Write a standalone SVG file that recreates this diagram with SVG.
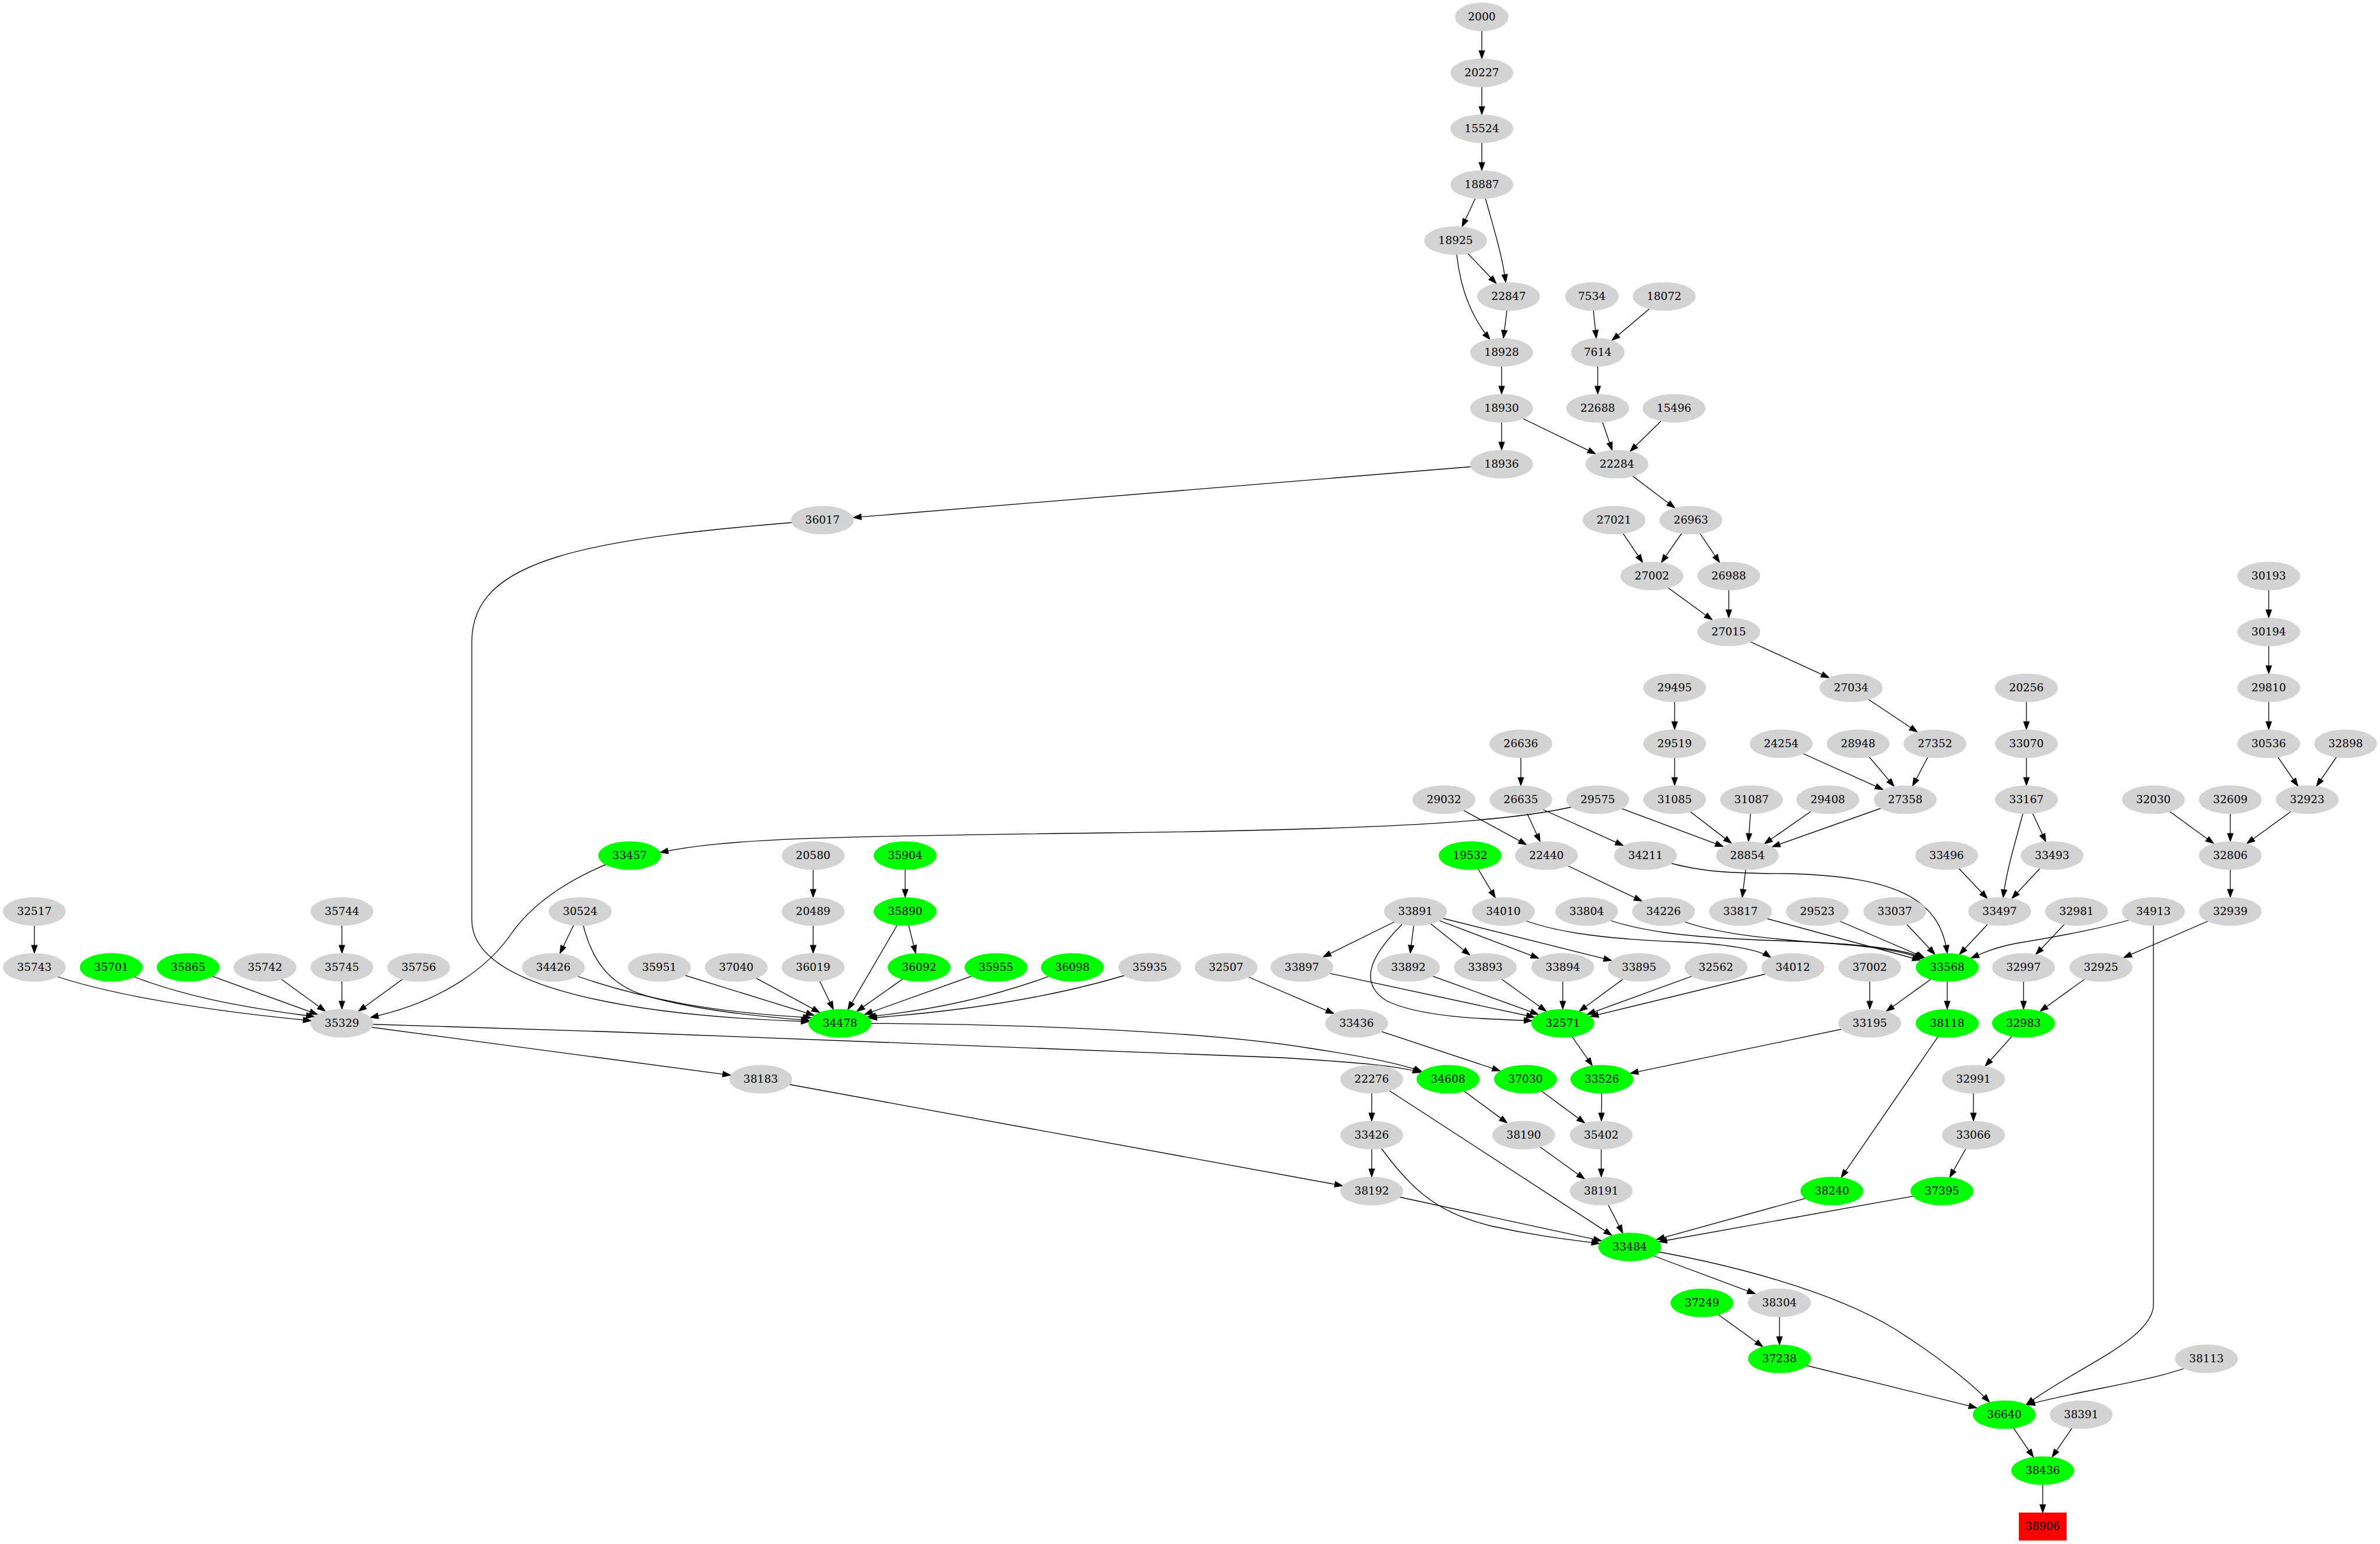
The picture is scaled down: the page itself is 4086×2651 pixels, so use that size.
<svg xmlns="http://www.w3.org/2000/svg" width="4086" height="2651" viewBox="0 0 4086 2651">
<style>
.g{fill:#d3d3d3}
.v{fill:#00ff00}
.r{fill:#ff0000}
text{font-family:"DejaVu Serif","Liberation Serif",serif;font-size:18.67px;text-anchor:middle;fill:#000}
#edges path{fill:none;stroke:#000;stroke-width:1.33;marker-end:url(#a)}
</style>
<defs>
<marker id="a" markerUnits="userSpaceOnUse" viewBox="0 -6 16 12" markerWidth="16" markerHeight="12" refX="13.3" refY="0" orient="auto" style="overflow:visible">
<path d="M0,-4.7 L13.3,0 L0,4.7 z" fill="#000" stroke="#000" stroke-width="1.33"/>
</marker>
</defs>
<rect width="4086" height="2651" fill="#fff"/>
<g id="edges">
<path d="M2544,29 L2544,100.5"/>
<path d="M2544,125 L2544,196.5"/>
<path d="M2544,221 L2544,292.5"/>
<path d="M2544,317 L2510.2,389"/>
<path d="M2544,317 C2560,380 2578,430 2585,484.8"/>
<path d="M2499,413 L2568.7,486.5"/>
<path d="M2499,413 C2502,470 2515,530 2558,583"/>
<path d="M2590,509 L2581.1,580.5"/>
<path d="M2733,509 L2740.5,580.5"/>
<path d="M2857,509 L2767.6,584.3"/>
<path d="M2578,605 L2578,676.5"/>
<path d="M2743,605 L2743,676.5"/>
<path d="M2578,701 L2578,772.5"/>
<path d="M2578,701 L2739.1,779.1"/>
<path d="M2743,701 L2767.7,772.8"/>
<path d="M2874,701 L2798.7,774.8"/>
<path d="M2578,797 L1465.1,888.6"/>
<path d="M2776,797 L2875.2,872"/>
<path d="M2771,893 L2820.1,965.6"/>
<path d="M2903,893 L2852.3,965.6"/>
<path d="M2903,893 L2952.1,965.6"/>
<path d="M2836,989 L2939.4,1064.2"/>
<path d="M2968,989 L2968,1060.5"/>
<path d="M2968,1085 L3140,1163.6"/>
<path d="M3178,1181 L3291.6,1256.7"/>
<path d="M2875,1181 L2875,1252.5"/>
<path d="M3479,1181 L3479,1252.5"/>
<path d="M3895,989 L3895,1060.5"/>
<path d="M3895,1085 L3895,1156.5"/>
<path d="M3895,1181 L3895,1252.5"/>
<path d="M2611,1277 L2611,1348.5"/>
<path d="M2875,1277 L2875,1348.5"/>
<path d="M3058,1277 L3232.7,1355.7"/>
<path d="M3190,1277 L3251.7,1350.1"/>
<path d="M3322,1277 L3283.6,1349.2"/>
<path d="M3479,1277 L3479,1348.5"/>
<path d="M3895,1277 L3944.9,1349.6"/>
<path d="M4027,1277 L3977.1,1349.6"/>
<path d="M2611,1373 L2644,1445"/>
<path d="M2611,1373 L2786.7,1451.7"/>
<path d="M2479,1373 L2620.5,1450.2"/>
<path d="M2743,1373 C2640,1410 2400,1424 1900,1430 S1250,1440 1133.5,1463.5"/>
<path d="M2743,1373 L2958.3,1453.4"/>
<path d="M2875,1373 L2972.5,1447.9"/>
<path d="M3007,1373 L3001.8,1444.5"/>
<path d="M3138,1373 L3029.5,1448.5"/>
<path d="M3271,1373 L3042.6,1453.9"/>
<path d="M3479,1373 C3465,1430 3445,1490 3439,1541"/>
<path d="M3479,1373 L3512,1445"/>
<path d="M3697,1373 L3800.4,1448.2"/>
<path d="M3829,1373 L3829,1444.5"/>
<path d="M3961,1373 L3857.6,1448.2"/>
<path d="M1081,1469 C990,1500 920,1545 880,1600 C840,1660 760,1720 636,1747"/>
<path d="M1396,1469 L1396,1540.5"/>
<path d="M1554,1469 L1554,1540.5"/>
<path d="M2524,1469 L2567,1541.3"/>
<path d="M2655,1469 L2818.8,1547.2"/>
<path d="M2825,1469 C2900,1495 2950,1500 3070,1500 C3250,1505 3330,1540 3343,1636.5"/>
<path d="M3000,1469 L2991.1,1540.5"/>
<path d="M3342,1469 L3411.7,1542.5"/>
<path d="M3523,1469 L3454.1,1542.5"/>
<path d="M3829,1469 L3829,1540.5"/>
<path d="M59,1565 L59,1636.5"/>
<path d="M587,1565 L587,1636.5"/>
<path d="M996,1565 L961.3,1637"/>
<path d="M996,1565 C1010,1640 1040,1690 1110,1710 C1200,1735 1300,1745 1389,1752"/>
<path d="M1396,1565 L1396,1636.5"/>
<path d="M1554,1565 L1455.8,1733.3"/>
<path d="M1554,1565 L1572,1636.6"/>
<path d="M2430,1565 L2271.6,1643"/>
<path d="M2430,1565 L2421.1,1636.5"/>
<path d="M2430,1565 L2523.4,1639.7"/>
<path d="M2430,1565 L2641.6,1645.3"/>
<path d="M2430,1565 L2766.7,1649.2"/>
<path d="M2430,1565 C2370,1620 2320,1680 2380,1718 C2440,1748 2560,1750 2630,1752.5"/>
<path d="M2581,1565 C2650,1600 2750,1612 2880,1617 C2960,1620 3020,1630 3040,1644"/>
<path d="M2724,1565 C2800,1600 2900,1610 3050,1615 C3200,1620 3270,1630 3302,1645"/>
<path d="M2856,1565 C2920,1610 3100,1615 3200,1625 C3260,1632 3285,1640 3300,1646"/>
<path d="M2988,1565 L3296.6,1648.5"/>
<path d="M3120,1565 L3303.8,1644.1"/>
<path d="M3253,1565 L3321.8,1638.5"/>
<path d="M3433,1565 L3364.2,1638.5"/>
<path d="M3697,1565 C3640,1590 3520,1610 3460,1620 C3420,1628 3400,1638 3384,1645"/>
<path d="M3565,1565 L3495.3,1638.5"/>
<path d="M3829,1565 L3646.1,1644.1"/>
<path d="M3697,1565 L3697,2240 C3697,2300 3560,2350 3479,2411.5"/>
<path d="M59,1661 C130,1695 300,1730 534,1752.5"/>
<path d="M191,1661 C300,1710 420,1730 539.4,1745.5"/>
<path d="M323,1661 L544.9,1741.7"/>
<path d="M455,1661 L558.4,1736.2"/>
<path d="M587,1661 L587,1732.5"/>
<path d="M719,1661 L615.6,1736.2"/>
<path d="M950,1661 C1100,1720 1250,1740 1392.4,1747.3"/>
<path d="M1132,1661 L1397.4,1743.2"/>
<path d="M1264,1661 L1407.2,1738.3"/>
<path d="M1396,1661 L1430.7,1733"/>
<path d="M1578,1661 L1471.2,1736.4"/>
<path d="M1710,1661 L1484.4,1741.8"/>
<path d="M1841,1661 C1720,1710 1600,1735 1489.7,1745.5"/>
<path d="M1974,1661 C1800,1720 1600,1740 1491.8,1747.9"/>
<path d="M1412,893 C1000,925 812,960 810,1100 L810,1580 C810,1700 1100,1745 1389,1754"/>
<path d="M2105,1661 L2289.8,1740.2"/>
<path d="M2235,1661 L2634.2,1746.5"/>
<path d="M2418,1661 L2640.9,1741.7"/>
<path d="M2550,1661 L2654.3,1736.2"/>
<path d="M2683,1661 L2683,1732.5"/>
<path d="M2814,1661 L2711.4,1736.2"/>
<path d="M2946,1661 L2725.1,1741.7"/>
<path d="M3078,1661 L2730.6,1745.4"/>
<path d="M3210,1661 L3210,1732.5"/>
<path d="M3343,1661 L3238.7,1736.2"/>
<path d="M3343,1661 L3343,1732.5"/>
<path d="M3474,1661 L3474,1732.5"/>
<path d="M3607,1661 L3502.7,1736.2"/>
<path d="M587,1757 C1200,1775 2000,1805 2200,1816 C2330,1824 2400,1830 2439,1841.5"/>
<path d="M587,1757 L1254.2,1846.1"/>
<path d="M1442,1757 C1800,1757 2100,1775 2250,1800 C2350,1815 2410,1828 2441,1840"/>
<path d="M2329,1757 L2575.4,1838.6"/>
<path d="M2683,1757 L2733.7,1829.6"/>
<path d="M3210,1757 L2799.1,1842.8"/>
<path d="M3474,1757 L3408.4,1830.3"/>
<path d="M2355,1853 L2355,1924.5"/>
<path d="M2355,1853 L2767.1,2120.9"/>
<path d="M2486,1853 L2587.6,1928.1"/>
<path d="M2619,1853 L2720.6,1928.1"/>
<path d="M2750,1853 L2749.3,1924.5"/>
<path d="M3388,1853 L3388,1924.5"/>
<path d="M2355,1949 L2355,2020.5"/>
<path d="M2355,1949 C2420,2040 2460,2080 2560,2105 C2650,2125 2710,2130 2746,2135"/>
<path d="M1306,1853 L2304.9,2035.8"/>
<path d="M2616,1949 L2720.3,2024.2"/>
<path d="M2749,1949 L2749,2020.5"/>
<path d="M3343,1757 L3161.1,2021.6"/>
<path d="M3388,1949 L3347.4,2021.3"/>
<path d="M2355,2045 L2749.3,2130.4"/>
<path d="M2749,2045 L2785.9,2117.1"/>
<path d="M3145,2045 L2844.1,2128.2"/>
<path d="M3334,2045 L2848.2,2132"/>
<path d="M2798,2141 L3013.3,2221.4"/>
<path d="M2798,2141 C2980,2170 3150,2220 3250,2280 C3330,2330 3390,2380 3415.5,2407.5"/>
<path d="M2922,2237 L3026.3,2312.2"/>
<path d="M3055,2237 L3055,2308.5"/>
<path d="M3055,2333 L3393.7,2417.2"/>
<path d="M3788,2333 C3720,2370 3600,2380 3480,2412"/>
<path d="M3441,2429 L3490.9,2501.6"/>
<path d="M3573,2429 L3523.1,2501.6"/>
<path d="M3507,2525 L3507,2597"/>
</g>
<g id="nodes">
<g id="n2000"><ellipse class="g" cx="2544" cy="29" rx="46" ry="24.5"/><text x="2544" y="35">2000</text></g>
<g id="n20227"><ellipse class="g" cx="2544" cy="125" rx="54" ry="24.5"/><text x="2544" y="131">20227</text></g>
<g id="n15524"><ellipse class="g" cx="2544" cy="221" rx="54" ry="24.5"/><text x="2544" y="227">15524</text></g>
<g id="n18887"><ellipse class="g" cx="2544" cy="317" rx="54" ry="24.5"/><text x="2544" y="323">18887</text></g>
<g id="n18925"><ellipse class="g" cx="2499" cy="413" rx="54" ry="24.5"/><text x="2499" y="419">18925</text></g>
<g id="n22847"><ellipse class="g" cx="2590" cy="509" rx="54" ry="24.5"/><text x="2590" y="515">22847</text></g>
<g id="n7534"><ellipse class="g" cx="2733" cy="509" rx="46" ry="24.5"/><text x="2733" y="515">7534</text></g>
<g id="n18072"><ellipse class="g" cx="2857" cy="509" rx="54" ry="24.5"/><text x="2857" y="515">18072</text></g>
<g id="n18928"><ellipse class="g" cx="2578" cy="605" rx="54" ry="24.5"/><text x="2578" y="611">18928</text></g>
<g id="n7614"><ellipse class="g" cx="2743" cy="605" rx="46" ry="24.5"/><text x="2743" y="611">7614</text></g>
<g id="n18930"><ellipse class="g" cx="2578" cy="701" rx="54" ry="24.5"/><text x="2578" y="707">18930</text></g>
<g id="n22688"><ellipse class="g" cx="2743" cy="701" rx="54" ry="24.5"/><text x="2743" y="707">22688</text></g>
<g id="n15496"><ellipse class="g" cx="2874" cy="701" rx="54" ry="24.5"/><text x="2874" y="707">15496</text></g>
<g id="n18936"><ellipse class="g" cx="2578" cy="797" rx="54" ry="24.5"/><text x="2578" y="803">18936</text></g>
<g id="n22284"><ellipse class="g" cx="2776" cy="797" rx="54" ry="24.5"/><text x="2776" y="803">22284</text></g>
<g id="n36017"><ellipse class="g" cx="1412" cy="893" rx="54" ry="24.5"/><text x="1412" y="899">36017</text></g>
<g id="n27021"><ellipse class="g" cx="2771" cy="893" rx="54" ry="24.5"/><text x="2771" y="899">27021</text></g>
<g id="n26963"><ellipse class="g" cx="2903" cy="893" rx="54" ry="24.5"/><text x="2903" y="899">26963</text></g>
<g id="n27002"><ellipse class="g" cx="2836" cy="989" rx="54" ry="24.5"/><text x="2836" y="995">27002</text></g>
<g id="n26988"><ellipse class="g" cx="2968" cy="989" rx="54" ry="24.5"/><text x="2968" y="995">26988</text></g>
<g id="n30193"><ellipse class="g" cx="3895" cy="989" rx="54" ry="24.5"/><text x="3895" y="995">30193</text></g>
<g id="n27015"><ellipse class="g" cx="2968" cy="1085" rx="54" ry="24.5"/><text x="2968" y="1091">27015</text></g>
<g id="n30194"><ellipse class="g" cx="3895" cy="1085" rx="54" ry="24.5"/><text x="3895" y="1091">30194</text></g>
<g id="n29495"><ellipse class="g" cx="2875" cy="1181" rx="54" ry="24.5"/><text x="2875" y="1187">29495</text></g>
<g id="n27034"><ellipse class="g" cx="3178" cy="1181" rx="54" ry="24.5"/><text x="3178" y="1187">27034</text></g>
<g id="n20256"><ellipse class="g" cx="3479" cy="1181" rx="54" ry="24.5"/><text x="3479" y="1187">20256</text></g>
<g id="n29810"><ellipse class="g" cx="3895" cy="1181" rx="54" ry="24.5"/><text x="3895" y="1187">29810</text></g>
<g id="n26636"><ellipse class="g" cx="2611" cy="1277" rx="54" ry="24.5"/><text x="2611" y="1283">26636</text></g>
<g id="n29519"><ellipse class="g" cx="2875" cy="1277" rx="54" ry="24.5"/><text x="2875" y="1283">29519</text></g>
<g id="n24254"><ellipse class="g" cx="3058" cy="1277" rx="54" ry="24.5"/><text x="3058" y="1283">24254</text></g>
<g id="n28948"><ellipse class="g" cx="3190" cy="1277" rx="54" ry="24.5"/><text x="3190" y="1283">28948</text></g>
<g id="n27352"><ellipse class="g" cx="3322" cy="1277" rx="54" ry="24.5"/><text x="3322" y="1283">27352</text></g>
<g id="n33070"><ellipse class="g" cx="3479" cy="1277" rx="54" ry="24.5"/><text x="3479" y="1283">33070</text></g>
<g id="n30536"><ellipse class="g" cx="3895" cy="1277" rx="54" ry="24.5"/><text x="3895" y="1283">30536</text></g>
<g id="n32898"><ellipse class="g" cx="4027" cy="1277" rx="54" ry="24.5"/><text x="4027" y="1283">32898</text></g>
<g id="n29032"><ellipse class="g" cx="2479" cy="1373" rx="54" ry="24.5"/><text x="2479" y="1379">29032</text></g>
<g id="n26635"><ellipse class="g" cx="2611" cy="1373" rx="54" ry="24.5"/><text x="2611" y="1379">26635</text></g>
<g id="n29575"><ellipse class="g" cx="2743" cy="1373" rx="54" ry="24.5"/><text x="2743" y="1379">29575</text></g>
<g id="n31085"><ellipse class="g" cx="2875" cy="1373" rx="54" ry="24.5"/><text x="2875" y="1379">31085</text></g>
<g id="n31087"><ellipse class="g" cx="3007" cy="1373" rx="54" ry="24.5"/><text x="3007" y="1379">31087</text></g>
<g id="n29408"><ellipse class="g" cx="3138" cy="1373" rx="54" ry="24.5"/><text x="3138" y="1379">29408</text></g>
<g id="n27358"><ellipse class="g" cx="3271" cy="1373" rx="54" ry="24.5"/><text x="3271" y="1379">27358</text></g>
<g id="n33167"><ellipse class="g" cx="3479" cy="1373" rx="54" ry="24.5"/><text x="3479" y="1379">33167</text></g>
<g id="n32030"><ellipse class="g" cx="3697" cy="1373" rx="54" ry="24.5"/><text x="3697" y="1379">32030</text></g>
<g id="n32609"><ellipse class="g" cx="3829" cy="1373" rx="54" ry="24.5"/><text x="3829" y="1379">32609</text></g>
<g id="n32923"><ellipse class="g" cx="3961" cy="1373" rx="54" ry="24.5"/><text x="3961" y="1379">32923</text></g>
<g id="n33457"><ellipse class="v" cx="1081" cy="1469" rx="54" ry="24.5"/><text x="1081" y="1475">33457</text></g>
<g id="n20580"><ellipse class="g" cx="1396" cy="1469" rx="54" ry="24.5"/><text x="1396" y="1475">20580</text></g>
<g id="n35904"><ellipse class="v" cx="1554" cy="1469" rx="54" ry="24.5"/><text x="1554" y="1475">35904</text></g>
<g id="n19532"><ellipse class="v" cx="2524" cy="1469" rx="54" ry="24.5"/><text x="2524" y="1475">19532</text></g>
<g id="n22440"><ellipse class="g" cx="2655" cy="1469" rx="54" ry="24.5"/><text x="2655" y="1475">22440</text></g>
<g id="n34211"><ellipse class="g" cx="2825" cy="1469" rx="54" ry="24.5"/><text x="2825" y="1475">34211</text></g>
<g id="n28854"><ellipse class="g" cx="3000" cy="1469" rx="54" ry="24.5"/><text x="3000" y="1475">28854</text></g>
<g id="n33496"><ellipse class="g" cx="3342" cy="1469" rx="54" ry="24.5"/><text x="3342" y="1475">33496</text></g>
<g id="n33493"><ellipse class="g" cx="3523" cy="1469" rx="54" ry="24.5"/><text x="3523" y="1475">33493</text></g>
<g id="n32806"><ellipse class="g" cx="3829" cy="1469" rx="54" ry="24.5"/><text x="3829" y="1475">32806</text></g>
<g id="n32517"><ellipse class="g" cx="59" cy="1565" rx="54" ry="24.5"/><text x="59" y="1571">32517</text></g>
<g id="n35744"><ellipse class="g" cx="587" cy="1565" rx="54" ry="24.5"/><text x="587" y="1571">35744</text></g>
<g id="n30524"><ellipse class="g" cx="996" cy="1565" rx="54" ry="24.5"/><text x="996" y="1571">30524</text></g>
<g id="n20489"><ellipse class="g" cx="1396" cy="1565" rx="54" ry="24.5"/><text x="1396" y="1571">20489</text></g>
<g id="n35890"><ellipse class="v" cx="1554" cy="1565" rx="54" ry="24.5"/><text x="1554" y="1571">35890</text></g>
<g id="n33891"><ellipse class="g" cx="2430" cy="1565" rx="54" ry="24.5"/><text x="2430" y="1571">33891</text></g>
<g id="n34010"><ellipse class="g" cx="2581" cy="1565" rx="54" ry="24.5"/><text x="2581" y="1571">34010</text></g>
<g id="n33804"><ellipse class="g" cx="2724" cy="1565" rx="54" ry="24.5"/><text x="2724" y="1571">33804</text></g>
<g id="n34226"><ellipse class="g" cx="2856" cy="1565" rx="54" ry="24.5"/><text x="2856" y="1571">34226</text></g>
<g id="n33817"><ellipse class="g" cx="2988" cy="1565" rx="54" ry="24.5"/><text x="2988" y="1571">33817</text></g>
<g id="n29523"><ellipse class="g" cx="3120" cy="1565" rx="54" ry="24.5"/><text x="3120" y="1571">29523</text></g>
<g id="n33037"><ellipse class="g" cx="3253" cy="1565" rx="54" ry="24.5"/><text x="3253" y="1571">33037</text></g>
<g id="n33497"><ellipse class="g" cx="3433" cy="1565" rx="54" ry="24.5"/><text x="3433" y="1571">33497</text></g>
<g id="n32981"><ellipse class="g" cx="3565" cy="1565" rx="54" ry="24.5"/><text x="3565" y="1571">32981</text></g>
<g id="n34913"><ellipse class="g" cx="3697" cy="1565" rx="54" ry="24.5"/><text x="3697" y="1571">34913</text></g>
<g id="n32939"><ellipse class="g" cx="3829" cy="1565" rx="54" ry="24.5"/><text x="3829" y="1571">32939</text></g>
<g id="n35743"><ellipse class="g" cx="59" cy="1661" rx="54" ry="24.5"/><text x="59" y="1667">35743</text></g>
<g id="n35701"><ellipse class="v" cx="191" cy="1661" rx="54" ry="24.5"/><text x="191" y="1667">35701</text></g>
<g id="n35865"><ellipse class="v" cx="323" cy="1661" rx="54" ry="24.5"/><text x="323" y="1667">35865</text></g>
<g id="n35742"><ellipse class="g" cx="455" cy="1661" rx="54" ry="24.5"/><text x="455" y="1667">35742</text></g>
<g id="n35745"><ellipse class="g" cx="587" cy="1661" rx="54" ry="24.5"/><text x="587" y="1667">35745</text></g>
<g id="n35756"><ellipse class="g" cx="719" cy="1661" rx="54" ry="24.5"/><text x="719" y="1667">35756</text></g>
<g id="n34426"><ellipse class="g" cx="950" cy="1661" rx="54" ry="24.5"/><text x="950" y="1667">34426</text></g>
<g id="n35951"><ellipse class="g" cx="1132" cy="1661" rx="54" ry="24.5"/><text x="1132" y="1667">35951</text></g>
<g id="n37040"><ellipse class="g" cx="1264" cy="1661" rx="54" ry="24.5"/><text x="1264" y="1667">37040</text></g>
<g id="n36019"><ellipse class="g" cx="1396" cy="1661" rx="54" ry="24.5"/><text x="1396" y="1667">36019</text></g>
<g id="n36092"><ellipse class="v" cx="1578" cy="1661" rx="54" ry="24.5"/><text x="1578" y="1667">36092</text></g>
<g id="n35955"><ellipse class="v" cx="1710" cy="1661" rx="54" ry="24.5"/><text x="1710" y="1667">35955</text></g>
<g id="n36098"><ellipse class="v" cx="1841" cy="1661" rx="54" ry="24.5"/><text x="1841" y="1667">36098</text></g>
<g id="n35935"><ellipse class="g" cx="1974" cy="1661" rx="54" ry="24.5"/><text x="1974" y="1667">35935</text></g>
<g id="n32507"><ellipse class="g" cx="2105" cy="1661" rx="54" ry="24.5"/><text x="2105" y="1667">32507</text></g>
<g id="n33897"><ellipse class="g" cx="2235" cy="1661" rx="54" ry="24.5"/><text x="2235" y="1667">33897</text></g>
<g id="n33892"><ellipse class="g" cx="2418" cy="1661" rx="54" ry="24.5"/><text x="2418" y="1667">33892</text></g>
<g id="n33893"><ellipse class="g" cx="2550" cy="1661" rx="54" ry="24.5"/><text x="2550" y="1667">33893</text></g>
<g id="n33894"><ellipse class="g" cx="2683" cy="1661" rx="54" ry="24.5"/><text x="2683" y="1667">33894</text></g>
<g id="n33895"><ellipse class="g" cx="2814" cy="1661" rx="54" ry="24.5"/><text x="2814" y="1667">33895</text></g>
<g id="n32562"><ellipse class="g" cx="2946" cy="1661" rx="54" ry="24.5"/><text x="2946" y="1667">32562</text></g>
<g id="n34012"><ellipse class="g" cx="3078" cy="1661" rx="54" ry="24.5"/><text x="3078" y="1667">34012</text></g>
<g id="n37002"><ellipse class="g" cx="3210" cy="1661" rx="54" ry="24.5"/><text x="3210" y="1667">37002</text></g>
<g id="n33568"><ellipse class="v" cx="3343" cy="1661" rx="54" ry="24.5"/><text x="3343" y="1667">33568</text></g>
<g id="n32997"><ellipse class="g" cx="3474" cy="1661" rx="54" ry="24.5"/><text x="3474" y="1667">32997</text></g>
<g id="n32925"><ellipse class="g" cx="3607" cy="1661" rx="54" ry="24.5"/><text x="3607" y="1667">32925</text></g>
<g id="n35329"><ellipse class="g" cx="587" cy="1757" rx="54" ry="24.5"/><text x="587" y="1763">35329</text></g>
<g id="n34478"><ellipse class="v" cx="1442" cy="1757" rx="54" ry="24.5"/><text x="1442" y="1763">34478</text></g>
<g id="n33436"><ellipse class="g" cx="2329" cy="1757" rx="54" ry="24.5"/><text x="2329" y="1763">33436</text></g>
<g id="n32571"><ellipse class="v" cx="2683" cy="1757" rx="54" ry="24.5"/><text x="2683" y="1763">32571</text></g>
<g id="n33195"><ellipse class="g" cx="3210" cy="1757" rx="54" ry="24.5"/><text x="3210" y="1763">33195</text></g>
<g id="n38118"><ellipse class="v" cx="3343" cy="1757" rx="54" ry="24.5"/><text x="3343" y="1763">38118</text></g>
<g id="n32983"><ellipse class="v" cx="3474" cy="1757" rx="54" ry="24.5"/><text x="3474" y="1763">32983</text></g>
<g id="n38183"><ellipse class="g" cx="1306" cy="1853" rx="54" ry="24.5"/><text x="1306" y="1859">38183</text></g>
<g id="n22276"><ellipse class="g" cx="2355" cy="1853" rx="54" ry="24.5"/><text x="2355" y="1859">22276</text></g>
<g id="n34608"><ellipse class="v" cx="2486" cy="1853" rx="54" ry="24.5"/><text x="2486" y="1859">34608</text></g>
<g id="n37030"><ellipse class="v" cx="2619" cy="1853" rx="54" ry="24.5"/><text x="2619" y="1859">37030</text></g>
<g id="n33526"><ellipse class="v" cx="2750" cy="1853" rx="54" ry="24.5"/><text x="2750" y="1859">33526</text></g>
<g id="n32991"><ellipse class="g" cx="3388" cy="1853" rx="54" ry="24.5"/><text x="3388" y="1859">32991</text></g>
<g id="n33426"><ellipse class="g" cx="2355" cy="1949" rx="54" ry="24.5"/><text x="2355" y="1955">33426</text></g>
<g id="n38190"><ellipse class="g" cx="2616" cy="1949" rx="54" ry="24.5"/><text x="2616" y="1955">38190</text></g>
<g id="n35402"><ellipse class="g" cx="2749" cy="1949" rx="54" ry="24.5"/><text x="2749" y="1955">35402</text></g>
<g id="n33066"><ellipse class="g" cx="3388" cy="1949" rx="54" ry="24.5"/><text x="3388" y="1955">33066</text></g>
<g id="n38192"><ellipse class="g" cx="2355" cy="2045" rx="54" ry="24.5"/><text x="2355" y="2051">38192</text></g>
<g id="n38191"><ellipse class="g" cx="2749" cy="2045" rx="54" ry="24.5"/><text x="2749" y="2051">38191</text></g>
<g id="n38240"><ellipse class="v" cx="3145" cy="2045" rx="54" ry="24.5"/><text x="3145" y="2051">38240</text></g>
<g id="n37395"><ellipse class="v" cx="3334" cy="2045" rx="54" ry="24.5"/><text x="3334" y="2051">37395</text></g>
<g id="n33484"><ellipse class="v" cx="2798" cy="2141" rx="54" ry="24.5"/><text x="2798" y="2147">33484</text></g>
<g id="n37249"><ellipse class="v" cx="2922" cy="2237" rx="54" ry="24.5"/><text x="2922" y="2243">37249</text></g>
<g id="n38304"><ellipse class="g" cx="3055" cy="2237" rx="54" ry="24.5"/><text x="3055" y="2243">38304</text></g>
<g id="n37238"><ellipse class="v" cx="3055" cy="2333" rx="54" ry="24.5"/><text x="3055" y="2339">37238</text></g>
<g id="n38113"><ellipse class="g" cx="3788" cy="2333" rx="54" ry="24.5"/><text x="3788" y="2339">38113</text></g>
<g id="n36640"><ellipse class="v" cx="3441" cy="2429" rx="54" ry="24.5"/><text x="3441" y="2435">36640</text></g>
<g id="n38391"><ellipse class="g" cx="3573" cy="2429" rx="54" ry="24.5"/><text x="3573" y="2435">38391</text></g>
<g id="n38436"><ellipse class="v" cx="3507" cy="2525" rx="54" ry="24.5"/><text x="3507" y="2531">38436</text></g>
<g id="n38906"><rect class="r" x="3466" y="2597" width="82" height="48"/><text x="3507" y="2627">38906</text></g>
</g>
</svg>
